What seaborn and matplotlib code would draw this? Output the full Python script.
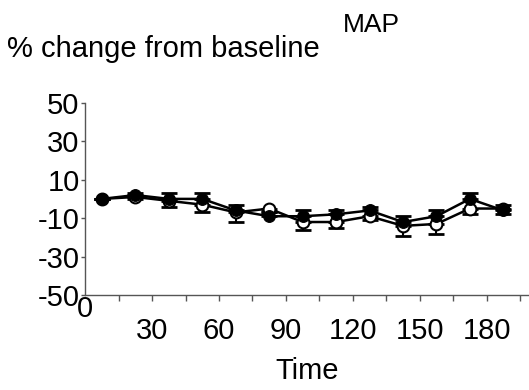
import numpy as np
import pandas as pd
import matplotlib
matplotlib.use("Agg")
import matplotlib.pyplot as plt
import seaborn as sns

# values (MAP, % change from baseline)
time = [7.5, 22.5, 37.5, 52.5, 67.5, 82.5, 97.5, 112.5, 127.5, 142.5, 157.5, 172.5, 187.5]
filled_mean = [0, 2, 0, 0, -6, -9, -9, -8, -6, -12, -9, 0, -6]
filled_err = [0, 1, 3, 3, 3, 2, 3, 2, 2, 3, 3, 3, 3]
open_mean = [0, 1, -1, -3, -7, -5, -12, -12, -9, -14, -13, -5, -5]
open_err = [0, 1, 3, 4, 5, 2, 4, 3, 2, 5, 5, 3, 3]
yticks = [50, 30, 10, -10, -30, -50]
xticks = [30, 60, 90, 120, 150, 180]

sns.set_style("ticks")
plt.rcParams['font.family'] = ['Liberation Sans', 'DejaVu Sans']
plt.rcParams['axes.unicode_minus'] = False
plt.rcParams['text.color'] = 'black'
plt.rcParams['axes.labelcolor'] = 'black'
plt.rcParams['xtick.labelcolor'] = 'black'
plt.rcParams['ytick.labelcolor'] = 'black'

df = pd.DataFrame({
    'Time': time * 2,
    'value': filled_mean + open_mean,
    'group': ['filled'] * len(time) + ['open'] * len(time),
})

fig = plt.figure(figsize=(5.29, 3.9), dpi=100)
ax = fig.add_axes([0.161, 0.243, 0.839, 0.494])

# error bars: filled group upward, open group downward
ax.errorbar(time, open_mean, yerr=[open_err, [0] * len(time)], fmt='none',
            ecolor='black', elinewidth=1.5, capsize=5.5, capthick=2, zorder=2)
ax.errorbar(time, filled_mean, yerr=[[0] * len(time), filled_err], fmt='none',
            ecolor='black', elinewidth=1.5, capsize=5.5, capthick=2, zorder=2)

sns.lineplot(data=df[df.group == 'open'], x='Time', y='value', ax=ax,
             color='black', linewidth=1.8, marker='o', markersize=8.5,
             markerfacecolor='white', markeredgecolor='black',
             markeredgewidth=1.5, zorder=3)
sns.lineplot(data=df[df.group == 'filled'], x='Time', y='value', ax=ax,
             color='black', linewidth=1.8, marker='o', markersize=8.5,
             markerfacecolor='black', markeredgecolor='black', zorder=4)

ax.set_xlim(0, 199)
ax.set_ylim(-50, 50)
ax.set_yticks(yticks)
ax.set_xticks(xticks)
ax.set_xticks(np.arange(15, 199, 15), minor=True)
ax.tick_params(axis='y', length=3, width=1, pad=1, labelsize=21, color='#555555')
ax.tick_params(axis='x', which='both', length=4, width=1, pad=12, labelsize=21,
               color='#555555')
sns.despine(ax=ax)
for s in ['left', 'bottom']:
    ax.spines[s].set_color('#555555')
    ax.spines[s].set_linewidth(1)

ax.text(0, -50, '0', ha='center', va='top', fontsize=21,
        transform=ax.transData)

ax.set_xlabel('Time', fontsize=21, labelpad=8)
ax.set_ylabel('')
fig.text(0.013, 0.875, '% change from baseline', fontsize=21, va='center')
fig.text(0.648, 0.937, 'MAP', fontsize=19, va='center')

fig.savefig('out.png', dpi=100)
